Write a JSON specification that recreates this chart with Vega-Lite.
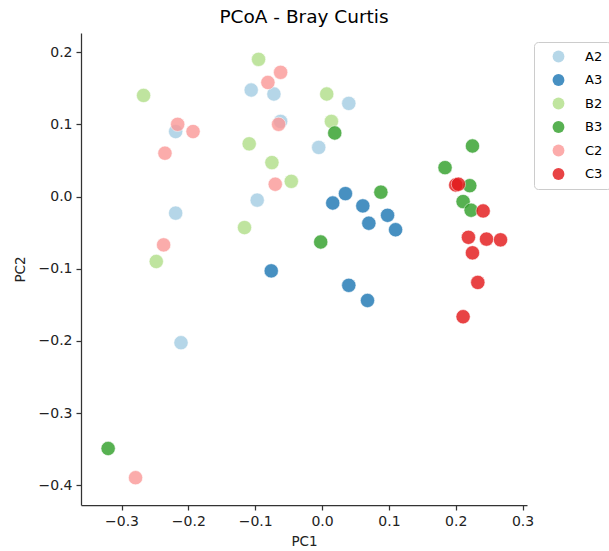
{
  "$schema": "https://vega.github.io/schema/vega-lite/v6.json",
  "width": 446,
  "height": 472,
  "autosize": {"type": "none"},
  "padding": {"left": 81, "top": 33, "right": 82, "bottom": 46},
  "background": "white",
  "title": {"text": "PCoA - Bray Curtis", "font": "DejaVu Sans", "fontSize": 18.5, "fontWeight": "normal", "color": "#000000", "anchor": "middle", "offset": 7},
  "data": {
    "values": [
      {"group": "A2", "PC1": -0.106, "PC2": 0.1475},
      {"group": "A2", "PC1": -0.072, "PC2": 0.142},
      {"group": "A2", "PC1": -0.062, "PC2": 0.104},
      {"group": "A2", "PC1": 0.040, "PC2": 0.129},
      {"group": "A2", "PC1": -0.005, "PC2": 0.068},
      {"group": "A2", "PC1": -0.219, "PC2": 0.090},
      {"group": "A2", "PC1": -0.097, "PC2": -0.005},
      {"group": "A2", "PC1": -0.219, "PC2": -0.023},
      {"group": "A2", "PC1": -0.211, "PC2": -0.2025},
      {"group": "A3", "PC1": 0.016, "PC2": -0.009},
      {"group": "A3", "PC1": 0.035, "PC2": 0.004},
      {"group": "A3", "PC1": 0.061, "PC2": -0.013},
      {"group": "A3", "PC1": 0.070, "PC2": -0.037},
      {"group": "A3", "PC1": 0.098, "PC2": -0.026},
      {"group": "A3", "PC1": 0.110, "PC2": -0.046},
      {"group": "A3", "PC1": 0.040, "PC2": -0.123},
      {"group": "A3", "PC1": 0.068, "PC2": -0.144},
      {"group": "A3", "PC1": -0.076, "PC2": -0.103},
      {"group": "B2", "PC1": -0.095, "PC2": 0.190},
      {"group": "B2", "PC1": -0.267, "PC2": 0.140},
      {"group": "B2", "PC1": -0.109, "PC2": 0.073},
      {"group": "B2", "PC1": -0.075, "PC2": 0.047},
      {"group": "B2", "PC1": -0.046, "PC2": 0.021},
      {"group": "B2", "PC1": -0.116, "PC2": -0.043},
      {"group": "B2", "PC1": -0.248, "PC2": -0.090},
      {"group": "B2", "PC1": 0.007, "PC2": 0.142},
      {"group": "B2", "PC1": 0.014, "PC2": 0.104},
      {"group": "B3", "PC1": 0.019, "PC2": 0.088},
      {"group": "B3", "PC1": 0.088, "PC2": 0.006},
      {"group": "B3", "PC1": 0.225, "PC2": 0.070},
      {"group": "B3", "PC1": 0.184, "PC2": 0.040},
      {"group": "B3", "PC1": 0.221, "PC2": 0.015},
      {"group": "B3", "PC1": 0.211, "PC2": -0.007},
      {"group": "B3", "PC1": 0.223, "PC2": -0.019},
      {"group": "B3", "PC1": -0.002, "PC2": -0.063},
      {"group": "B3", "PC1": -0.320, "PC2": -0.349},
      {"group": "C2", "PC1": -0.062, "PC2": 0.172},
      {"group": "C2", "PC1": -0.081, "PC2": 0.158},
      {"group": "C2", "PC1": -0.216, "PC2": 0.100},
      {"group": "C2", "PC1": -0.193, "PC2": 0.090},
      {"group": "C2", "PC1": -0.235, "PC2": 0.060},
      {"group": "C2", "PC1": -0.065, "PC2": 0.100},
      {"group": "C2", "PC1": -0.070, "PC2": 0.017},
      {"group": "C2", "PC1": -0.237, "PC2": -0.067},
      {"group": "C2", "PC1": -0.279, "PC2": -0.3895},
      {"group": "C3", "PC1": 0.200, "PC2": 0.016},
      {"group": "C3", "PC1": 0.204, "PC2": 0.017},
      {"group": "C3", "PC1": 0.241, "PC2": -0.020},
      {"group": "C3", "PC1": 0.219, "PC2": -0.0565},
      {"group": "C3", "PC1": 0.246, "PC2": -0.059},
      {"group": "C3", "PC1": 0.267, "PC2": -0.060},
      {"group": "C3", "PC1": 0.225, "PC2": -0.078},
      {"group": "C3", "PC1": 0.233, "PC2": -0.119},
      {"group": "C3", "PC1": 0.211, "PC2": -0.1665}
    ]
  },
  "mark": {"type": "point", "shape": "circle", "filled": true, "size": 205, "opacity": 0.82, "stroke": "white", "strokeWidth": 0.6},
  "encoding": {
    "x": {
      "field": "PC1", "type": "quantitative",
      "scale": {"domain": [-0.3606, 0.3066], "nice": false, "zero": false},
      "axis": {"title": "PC1", "values": [-0.3, -0.2, -0.1, 0.0, 0.1, 0.2, 0.3], "format": ".1f", "titlePadding": 6}
    },
    "y": {
      "field": "PC2", "type": "quantitative",
      "scale": {"domain": [-0.4273, 0.2265], "nice": false, "zero": false},
      "axis": {"title": "PC2", "values": [-0.4, -0.3, -0.2, -0.1, 0.0, 0.1, 0.2], "format": ".1f", "titlePadding": 11}
    },
    "color": {
      "field": "group", "type": "nominal",
      "scale": {"domain": ["A2", "A3", "B2", "B3", "C2", "C3"], "range": ["#a6cee3", "#1f78b4", "#b2df8a", "#33a02c", "#fb9a99", "#e31a1c"]},
      "legend": {
        "title": null, "orient": "none", "legendX": 453, "legendY": 9, "direction": "vertical",
        "padding": 8, "strokeColor": "#cccccc", "fillColor": "white", "cornerRadius": 4,
        "symbolType": "circle", "symbolSize": 140, "symbolOpacity": 0.82, "symbolStrokeWidth": 0,
        "symbolOffset": 10, "labelOffset": 20, "rowPadding": 9.5,
        "labelFont": "DejaVu Sans", "labelFontSize": 13, "labelColor": "#000000"
      }
    }
  },
  "config": {
    "view": {"stroke": null},
    "axis": {
      "grid": false, "domainColor": "#333333", "domainWidth": 1.25, "tickColor": "#333333", "tickWidth": 1.25, "tickSize": 5,
      "labelFont": "DejaVu Sans", "labelFontSize": 14, "labelColor": "#222222", "labelPadding": 4,
      "titleFont": "DejaVu Sans", "titleFontSize": 13.5, "titleFontWeight": "normal", "titleColor": "#222222"
    }
  }
}
